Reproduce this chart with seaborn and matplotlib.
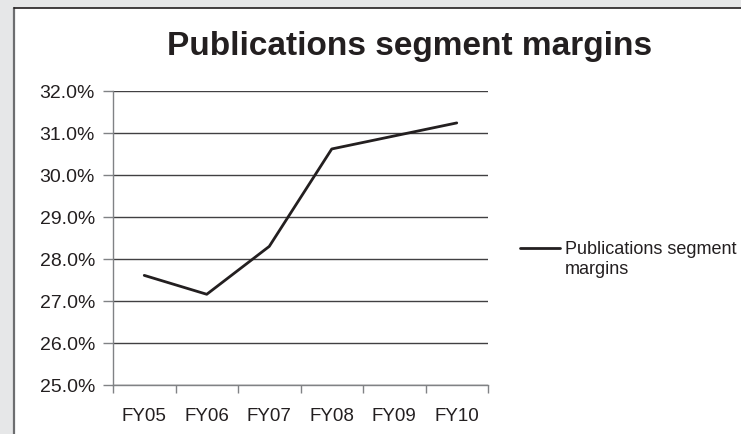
import matplotlib
matplotlib.use('Agg')
import matplotlib.pyplot as plt
import seaborn as sns
import pandas as pd
from matplotlib.patches import Rectangle
from matplotlib.lines import Line2D
from matplotlib.ticker import FuncFormatter, FixedLocator

# Chart data
years = ['FY05', 'FY06', 'FY07', 'FY08', 'FY09', 'FY10']
margins = [27.61, 27.16, 28.30, 30.62, 30.93, 31.24]
series_name = 'Publications segment margins'

df = pd.DataFrame({'year': years, 'margin': margins})

sns.set_style('white')
plt.rcParams['font.family'] = ['Liberation Sans', 'DejaVu Sans']

W, H = 741, 435
fig = plt.figure(figsize=(W / 100, H / 100), dpi=100)
fig.patch.set_facecolor('#e6e7e8')

# white chart area with its border
fig.patches.append(Rectangle((14 / W, 0), 1, 1 - 9 / H, transform=fig.transFigure,
                             facecolor='white', edgecolor='none', zorder=-10))
fig.lines.append(Line2D([14 / W, 14 / W], [0, 1 - 9 / H], transform=fig.transFigure,
                        color='#6d6e70', lw=1.6, zorder=-5))
fig.lines.append(Line2D([14 / W, 1], [1 - 9 / H, 1 - 9 / H], transform=fig.transFigure,
                        color='#231f20', lw=1.2, zorder=-5))

ax = fig.add_axes([113 / W, 1 - 386 / H, 375 / W, 294 / H])
ax.set_facecolor('none')

sns.lineplot(data=df, x='year', y='margin', ax=ax, color='#231f20', lw=2.0,
             sort=False, legend=False)

ax.set_ylim(25, 32)
ax.set_xlim(-0.5, len(years) - 0.5)
ax.set_yticks(range(25, 33))
ax.yaxis.set_major_formatter(FuncFormatter(lambda v, p: f'{v:.1f}%'))
ax.grid(axis='y', color='#414042', lw=1.0)
ax.set_axisbelow(True)

ax.set_xticks(range(len(years)))
ax.set_xticklabels(years)
ax.xaxis.set_minor_locator(FixedLocator([i - 0.5 for i in range(len(years) + 1)]))
ax.tick_params(axis='x', which='major', length=0, pad=16, labelsize=13.5, labelcolor='#231f20')
ax.tick_params(axis='x', which='minor', length=6, width=1, color='#808285', direction='out', bottom=True)
ax.tick_params(axis='y', length=7, width=1, color='#808285', direction='out', left=True,
               labelsize=14, labelcolor='#231f20', pad=6)

ax.set_xlabel('')
ax.set_ylabel('')
for side in ['top', 'right']:
    ax.spines[side].set_visible(False)
for side in ['left', 'bottom']:
    ax.spines[side].set_color('#808285')
    ax.spines[side].set_linewidth(1.0)

fig.text(410 / W, 1 - 47 / H, series_name, ha='center', va='center',
         fontsize=24, fontweight='bold', color='#231f20')

# legend
fig.lines.append(Line2D([520 / W, 560 / W], [1 - 249 / H, 1 - 249 / H], transform=fig.transFigure,
                        color='#231f20', lw=2.0))
fig.text(565 / W, 1 - 241 / H, 'Publications segment\nmargins', ha='left', va='top',
         fontsize=13, color='#231f20', linespacing=1.25)

fig.savefig('out.png', dpi=100, facecolor=fig.get_facecolor())
